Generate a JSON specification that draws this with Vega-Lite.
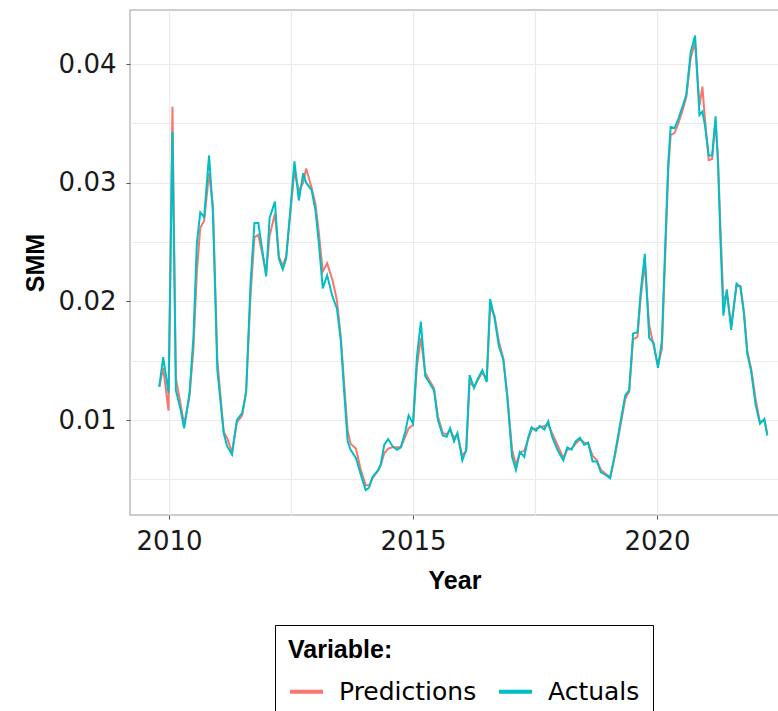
{
  "$schema": "https://vega.github.io/schema/vega-lite/v6.json",
  "width": 649,
  "height": 505,
  "autosize": {"type": "none"},
  "padding": {"left": 130, "top": 10, "right": 0, "bottom": 196},
  "background": "white",
  "config": {
    "view": {"stroke": "#bdbdbd", "strokeWidth": 1.5},
    "axis": {
      "domain": false,
      "grid": true,
      "gridColor": "#ebebeb",
      "gridWidth": 1.2,
      "tickColor": "#555555",
      "tickSize": 4,
      "labelFont": "DejaVu Sans",
      "labelFontSize": 26,
      "labelColor": "#1a1a1a",
      "labelFlush": false,
      "labelOverlap": false,
      "labelBound": false,
      "titleFont": "Liberation Sans",
      "titleFontSize": 25,
      "titleFontWeight": "bold",
      "titleColor": "#000000"
    }
  },
  "data": {
    "values": [
      {"t": 2009.80, "act": 0.0128, "pred": 0.0128},
      {"t": 2009.88, "act": 0.0153, "pred": 0.0144},
      {"t": 2009.99, "act": 0.0123, "pred": 0.0108},
      {"t": 2010.07, "act": 0.0343, "pred": 0.0364},
      {"t": 2010.14, "act": 0.0125, "pred": 0.0135},
      {"t": 2010.23, "act": 0.0110, "pred": 0.0115},
      {"t": 2010.31, "act": 0.0093, "pred": 0.0096},
      {"t": 2010.42, "act": 0.0123, "pred": 0.0120},
      {"t": 2010.50, "act": 0.0170, "pred": 0.0160},
      {"t": 2010.57, "act": 0.0249, "pred": 0.0225},
      {"t": 2010.64, "act": 0.0275, "pred": 0.0262},
      {"t": 2010.72, "act": 0.0271, "pred": 0.0268},
      {"t": 2010.82, "act": 0.0323, "pred": 0.0308},
      {"t": 2010.90, "act": 0.0274, "pred": 0.0280},
      {"t": 2010.99, "act": 0.0142, "pred": 0.0150},
      {"t": 2011.12, "act": 0.0089, "pred": 0.0090},
      {"t": 2011.19, "act": 0.0078, "pred": 0.0085},
      {"t": 2011.29, "act": 0.0071, "pred": 0.0073},
      {"t": 2011.39, "act": 0.0100, "pred": 0.0098},
      {"t": 2011.50, "act": 0.0106, "pred": 0.0104},
      {"t": 2011.58, "act": 0.0123, "pred": 0.0125},
      {"t": 2011.67, "act": 0.0215, "pred": 0.0205},
      {"t": 2011.75, "act": 0.0266, "pred": 0.0254},
      {"t": 2011.83, "act": 0.0266, "pred": 0.0256},
      {"t": 2011.99, "act": 0.0221, "pred": 0.0224},
      {"t": 2012.06, "act": 0.0270, "pred": 0.0255},
      {"t": 2012.17, "act": 0.0284, "pred": 0.0274},
      {"t": 2012.25, "act": 0.0236, "pred": 0.0238},
      {"t": 2012.33, "act": 0.0227, "pred": 0.0230},
      {"t": 2012.40, "act": 0.0236, "pred": 0.0238},
      {"t": 2012.57, "act": 0.0318, "pred": 0.0310},
      {"t": 2012.66, "act": 0.0285, "pred": 0.0293},
      {"t": 2012.75, "act": 0.0308, "pred": 0.0300},
      {"t": 2012.81, "act": 0.0300, "pred": 0.0312},
      {"t": 2012.92, "act": 0.0294, "pred": 0.0296},
      {"t": 2013.00, "act": 0.0277, "pred": 0.0282},
      {"t": 2013.07, "act": 0.0249, "pred": 0.0258},
      {"t": 2013.15, "act": 0.0211, "pred": 0.0225},
      {"t": 2013.24, "act": 0.0222, "pred": 0.0232},
      {"t": 2013.35, "act": 0.0204, "pred": 0.0218},
      {"t": 2013.44, "act": 0.0194, "pred": 0.0201},
      {"t": 2013.52, "act": 0.0167, "pred": 0.0170},
      {"t": 2013.59, "act": 0.0123, "pred": 0.0130},
      {"t": 2013.66, "act": 0.0082, "pred": 0.0091},
      {"t": 2013.72, "act": 0.0075, "pred": 0.0080},
      {"t": 2013.83, "act": 0.0068, "pred": 0.0076},
      {"t": 2013.93, "act": 0.0054, "pred": 0.0058},
      {"t": 2014.03, "act": 0.0041, "pred": 0.0045},
      {"t": 2014.10, "act": 0.0043, "pred": 0.0045},
      {"t": 2014.17, "act": 0.0052, "pred": 0.0051},
      {"t": 2014.29, "act": 0.0058, "pred": 0.0058},
      {"t": 2014.34, "act": 0.0063, "pred": 0.0062},
      {"t": 2014.41, "act": 0.0079, "pred": 0.0072},
      {"t": 2014.49, "act": 0.0084, "pred": 0.0076},
      {"t": 2014.58, "act": 0.0078, "pred": 0.0077},
      {"t": 2014.67, "act": 0.0075, "pred": 0.0077},
      {"t": 2014.75, "act": 0.0077, "pred": 0.0077},
      {"t": 2014.84, "act": 0.0090, "pred": 0.0086},
      {"t": 2014.91, "act": 0.0104, "pred": 0.0093},
      {"t": 2015.00, "act": 0.0097, "pred": 0.0096},
      {"t": 2015.08, "act": 0.0153, "pred": 0.0145},
      {"t": 2015.16, "act": 0.0183, "pred": 0.0169},
      {"t": 2015.25, "act": 0.0137, "pred": 0.0140},
      {"t": 2015.34, "act": 0.0131, "pred": 0.0133},
      {"t": 2015.43, "act": 0.0125, "pred": 0.0127},
      {"t": 2015.51, "act": 0.0100, "pred": 0.0103},
      {"t": 2015.61, "act": 0.0087, "pred": 0.0089},
      {"t": 2015.69, "act": 0.0086, "pred": 0.0088},
      {"t": 2015.76, "act": 0.0093, "pred": 0.0092},
      {"t": 2015.84, "act": 0.0082, "pred": 0.0085},
      {"t": 2015.91, "act": 0.0089, "pred": 0.0088},
      {"t": 2016.01, "act": 0.0066, "pred": 0.0070},
      {"t": 2016.09, "act": 0.0075, "pred": 0.0074},
      {"t": 2016.16, "act": 0.0138, "pred": 0.0132},
      {"t": 2016.25, "act": 0.0127, "pred": 0.0128},
      {"t": 2016.33, "act": 0.0135, "pred": 0.0134},
      {"t": 2016.42, "act": 0.0142, "pred": 0.0140},
      {"t": 2016.51, "act": 0.0132, "pred": 0.0135},
      {"t": 2016.58, "act": 0.0202, "pred": 0.0195},
      {"t": 2016.67, "act": 0.0186, "pred": 0.0188},
      {"t": 2016.76, "act": 0.0162, "pred": 0.0166},
      {"t": 2016.85, "act": 0.0151, "pred": 0.0152},
      {"t": 2016.93, "act": 0.0120, "pred": 0.0122},
      {"t": 2017.03, "act": 0.0069, "pred": 0.0075},
      {"t": 2017.11, "act": 0.0058, "pred": 0.0062},
      {"t": 2017.19, "act": 0.0073, "pred": 0.0073},
      {"t": 2017.28, "act": 0.0069, "pred": 0.0074},
      {"t": 2017.36, "act": 0.0085, "pred": 0.0084},
      {"t": 2017.43, "act": 0.0094, "pred": 0.0092},
      {"t": 2017.52, "act": 0.0091, "pred": 0.0093},
      {"t": 2017.60, "act": 0.0095, "pred": 0.0094},
      {"t": 2017.69, "act": 0.0092, "pred": 0.0095},
      {"t": 2017.77, "act": 0.0099, "pred": 0.0096},
      {"t": 2017.85, "act": 0.0086, "pred": 0.0089},
      {"t": 2017.96, "act": 0.0075, "pred": 0.0079},
      {"t": 2018.08, "act": 0.0066, "pred": 0.0068},
      {"t": 2018.16, "act": 0.0077, "pred": 0.0075},
      {"t": 2018.25, "act": 0.0075, "pred": 0.0076},
      {"t": 2018.33, "act": 0.0082, "pred": 0.0080},
      {"t": 2018.42, "act": 0.0085, "pred": 0.0084},
      {"t": 2018.51, "act": 0.0079, "pred": 0.0081},
      {"t": 2018.59, "act": 0.0081, "pred": 0.0080},
      {"t": 2018.68, "act": 0.0065, "pred": 0.0070},
      {"t": 2018.77, "act": 0.0065, "pred": 0.0066},
      {"t": 2018.85, "act": 0.0056, "pred": 0.0058},
      {"t": 2018.94, "act": 0.0054, "pred": 0.0055},
      {"t": 2019.04, "act": 0.0051, "pred": 0.0052},
      {"t": 2019.14, "act": 0.0072, "pred": 0.0070},
      {"t": 2019.25, "act": 0.0098, "pred": 0.0095},
      {"t": 2019.35, "act": 0.0121, "pred": 0.0118},
      {"t": 2019.43, "act": 0.0125, "pred": 0.0124},
      {"t": 2019.51, "act": 0.0173, "pred": 0.0168},
      {"t": 2019.60, "act": 0.0174, "pred": 0.0170},
      {"t": 2019.67, "act": 0.0210, "pred": 0.0205},
      {"t": 2019.75, "act": 0.0240, "pred": 0.0232},
      {"t": 2019.84, "act": 0.0169, "pred": 0.0180},
      {"t": 2019.93, "act": 0.0165, "pred": 0.0163},
      {"t": 2020.02, "act": 0.0144, "pred": 0.0146},
      {"t": 2020.10, "act": 0.0167, "pred": 0.0160},
      {"t": 2020.17, "act": 0.0249, "pred": 0.0240},
      {"t": 2020.23, "act": 0.0316, "pred": 0.0310},
      {"t": 2020.28, "act": 0.0347, "pred": 0.0340},
      {"t": 2020.36, "act": 0.0346, "pred": 0.0342},
      {"t": 2020.43, "act": 0.0353, "pred": 0.0349},
      {"t": 2020.53, "act": 0.0365, "pred": 0.0362},
      {"t": 2020.60, "act": 0.0374, "pred": 0.0372},
      {"t": 2020.69, "act": 0.0410, "pred": 0.0405},
      {"t": 2020.78, "act": 0.0424, "pred": 0.0418},
      {"t": 2020.87, "act": 0.0357, "pred": 0.0365},
      {"t": 2020.93, "act": 0.0360, "pred": 0.0381},
      {"t": 2020.98, "act": 0.0349, "pred": 0.0355},
      {"t": 2021.06, "act": 0.0323, "pred": 0.0319},
      {"t": 2021.13, "act": 0.0323, "pred": 0.0320},
      {"t": 2021.20, "act": 0.0356, "pred": 0.0352},
      {"t": 2021.25, "act": 0.0316, "pred": 0.0320},
      {"t": 2021.30, "act": 0.0252, "pred": 0.0262},
      {"t": 2021.36, "act": 0.0188, "pred": 0.0200},
      {"t": 2021.43, "act": 0.0210, "pred": 0.0207},
      {"t": 2021.52, "act": 0.0176, "pred": 0.0180},
      {"t": 2021.63, "act": 0.0215, "pred": 0.0213},
      {"t": 2021.71, "act": 0.0212, "pred": 0.0213},
      {"t": 2021.78, "act": 0.0190, "pred": 0.0192},
      {"t": 2021.85, "act": 0.0156, "pred": 0.0158},
      {"t": 2021.93, "act": 0.0141, "pred": 0.0143},
      {"t": 2022.02, "act": 0.0113, "pred": 0.0118},
      {"t": 2022.11, "act": 0.0097, "pred": 0.0098},
      {"t": 2022.20, "act": 0.0101, "pred": 0.0100},
      {"t": 2022.26, "act": 0.0087, "pred": 0.0088}
    ]
  },
  "encoding": {
    "x": {
      "field": "t",
      "type": "quantitative",
      "scale": {"domain": [2009.2, 2022.5], "nice": false, "zero": false},
      "axis": {
        "title": "Year",
        "values": [2010, 2012.5, 2015, 2017.5, 2020],
        "labelExpr": "datum.value % 5 === 0 ? format(datum.value, 'd') : ''",
        "tickOpacity": {"condition": {"test": "datum.value % 5 === 0", "value": 1}, "value": 0},
        "labelPadding": 9,
        "titlePadding": 14
      }
    }
  },
  "layer": [
    {
      "mark": {"type": "line", "strokeWidth": 2, "clip": true},
      "encoding": {
        "y": {
          "field": "pred",
          "type": "quantitative",
          "scale": {"domain": [0.002, 0.04455], "nice": false, "zero": false},
          "axis": {
            "title": "SMM",
            "values": [0.005, 0.01, 0.015, 0.02, 0.025, 0.03, 0.035, 0.04],
            "labelExpr": "abs(datum.value * 100 - round(datum.value * 100)) < 0.000001 ? format(datum.value, '.2f') : ''",
            "tickOpacity": {"condition": {"test": "abs(datum.value * 100 - round(datum.value * 100)) < 0.000001", "value": 1}, "value": 0},
            "labelPadding": 10,
            "titlePadding": 10
          }
        },
        "color": {
          "datum": "Predictions",
          "type": "nominal",
          "scale": {"domain": ["Predictions", "Actuals"], "range": ["#F8766D", "#00BFC4"]},
          "legend": {
            "title": "Variable:",
            "orient": "none",
            "legendX": 145,
            "legendY": 615,
            "direction": "horizontal",
            "titleFont": "Liberation Sans",
            "titleFontSize": 25,
            "titleFontWeight": "bold",
            "titleColor": "#000000",
            "titlePadding": 10,
            "labelFont": "DejaVu Sans",
            "labelFontSize": 25,
            "labelColor": "#000000",
            "labelOffset": 14,
            "symbolType": "stroke",
            "symbolSize": 1089,
            "symbolStrokeWidth": 4,
            "columnPadding": 14,
            "strokeColor": "#000000",
            "padding": 13
          }
        }
      }
    },
    {
      "mark": {"type": "line", "strokeWidth": 2, "clip": true},
      "encoding": {
        "y": {
          "field": "act",
          "type": "quantitative",
          "scale": {"domain": [0.002, 0.04455], "nice": false, "zero": false},
          "axis": {
            "title": "SMM",
            "values": [0.005, 0.01, 0.015, 0.02, 0.025, 0.03, 0.035, 0.04],
            "labelExpr": "abs(datum.value * 100 - round(datum.value * 100)) < 0.000001 ? format(datum.value, '.2f') : ''",
            "tickOpacity": {"condition": {"test": "abs(datum.value * 100 - round(datum.value * 100)) < 0.000001", "value": 1}, "value": 0},
            "labelPadding": 10,
            "titlePadding": 10
          }
        },
        "color": {"datum": "Actuals", "type": "nominal"}
      }
    }
  ]
}
